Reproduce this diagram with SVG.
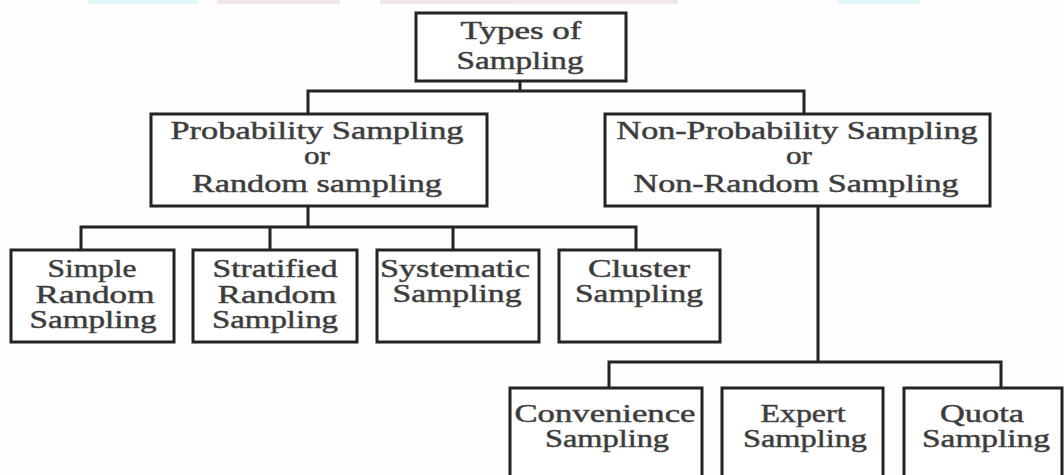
<svg xmlns="http://www.w3.org/2000/svg" width="1064" height="475" viewBox="0 0 1064 475">
<style>
.box{fill:#ffffff;stroke:#232323;stroke-width:3}
.t{font-family:"Liberation Serif","Times New Roman",serif;font-size:25px;fill:#3a3a3a;stroke:#4a4a4a;stroke-width:0.5;text-anchor:middle}
.c{fill:none;stroke:#232323;stroke-width:3;stroke-linecap:square}
.wm{opacity:0.25}
</style>
<rect x="0" y="0" width="1064" height="475" fill="#fdfdfd"/>
<g id="watermark" class="wm">
<rect x="88" y="0" width="110" height="4" fill="#8fe6f0"/>
<rect x="217" y="0" width="123" height="4" fill="#d8a0a8"/>
<rect x="380" y="0" width="298" height="4" fill="#c8a8aa"/>
<rect x="838" y="0" width="82" height="4" fill="#8fe6f0"/>
</g>
<g id="connectors">
<path class="c" d="M520,81 V91 M308,91 H804 M308,91 V114 M804,91 V114"/>
<path class="c" d="M308,206 V227 M81,227 H636 M81,227 V250 M270,227 V250 M453,227 V250 M636,227 V250"/>
<path class="c" d="M818,206 V362 M609,362 H1001 M609,362 V388 M1001,362 V388"/>
</g>
<g id="types">
<rect class="box" x="416" y="13" width="210" height="68"/>
<text class="t" x="521" y="39" textLength="121" lengthAdjust="spacingAndGlyphs">Types of</text>
<text class="t" x="520" y="69" textLength="127" lengthAdjust="spacingAndGlyphs">Sampling</text>
</g>
<g id="probability">
<rect class="box" x="151" y="114" width="336" height="92"/>
<text class="t" x="317" y="139" textLength="293" lengthAdjust="spacingAndGlyphs">Probability Sampling</text>
<text class="t" x="317" y="164" textLength="26" lengthAdjust="spacingAndGlyphs">or</text>
<text class="t" x="317" y="192" textLength="250" lengthAdjust="spacingAndGlyphs">Random sampling</text>
</g>
<g id="nonprobability">
<rect class="box" x="605" y="114" width="385" height="92"/>
<text class="t" x="797" y="139" textLength="361" lengthAdjust="spacingAndGlyphs">Non-Probability Sampling</text>
<text class="t" x="799" y="164" textLength="26" lengthAdjust="spacingAndGlyphs">or</text>
<text class="t" x="796" y="192" textLength="325" lengthAdjust="spacingAndGlyphs">Non-Random Sampling</text>
</g>
<g id="simple">
<rect class="box" x="11" y="250" width="163" height="92"/>
<text class="t" x="92" y="277" textLength="89" lengthAdjust="spacingAndGlyphs">Simple</text>
<text class="t" x="95" y="303" textLength="119" lengthAdjust="spacingAndGlyphs">Random</text>
<text class="t" x="93" y="328" textLength="127" lengthAdjust="spacingAndGlyphs">Sampling</text>
</g>
<g id="stratified">
<rect class="box" x="193" y="250" width="164" height="92"/>
<text class="t" x="275" y="277" textLength="125" lengthAdjust="spacingAndGlyphs">Stratified</text>
<text class="t" x="277" y="303" textLength="119" lengthAdjust="spacingAndGlyphs">Random</text>
<text class="t" x="275" y="328" textLength="126" lengthAdjust="spacingAndGlyphs">Sampling</text>
</g>
<g id="systematic">
<rect class="box" x="377" y="250" width="162" height="92"/>
<text class="t" x="455" y="277" textLength="150" lengthAdjust="spacingAndGlyphs">Systematic</text>
<text class="t" x="457" y="302" textLength="129" lengthAdjust="spacingAndGlyphs">Sampling</text>
</g>
<g id="cluster">
<rect class="box" x="559" y="250" width="161" height="92"/>
<text class="t" x="639" y="277" textLength="102" lengthAdjust="spacingAndGlyphs">Cluster</text>
<text class="t" x="639" y="302" textLength="128" lengthAdjust="spacingAndGlyphs">Sampling</text>
</g>
<g id="convenience">
<rect class="box" x="510" y="388" width="192" height="100"/>
<text class="t" x="605" y="422" textLength="181" lengthAdjust="spacingAndGlyphs">Convenience</text>
<text class="t" x="607" y="447" textLength="124" lengthAdjust="spacingAndGlyphs">Sampling</text>
</g>
<g id="expert">
<rect class="box" x="722" y="388" width="161" height="100"/>
<text class="t" x="803" y="422" textLength="85" lengthAdjust="spacingAndGlyphs">Expert</text>
<text class="t" x="805" y="447" textLength="124" lengthAdjust="spacingAndGlyphs">Sampling</text>
</g>
<g id="quota">
<rect class="box" x="904" y="388" width="158" height="100"/>
<text class="t" x="982" y="422" textLength="84" lengthAdjust="spacingAndGlyphs">Quota</text>
<text class="t" x="986" y="447" textLength="128" lengthAdjust="spacingAndGlyphs">Sampling</text>
</g>
</svg>
